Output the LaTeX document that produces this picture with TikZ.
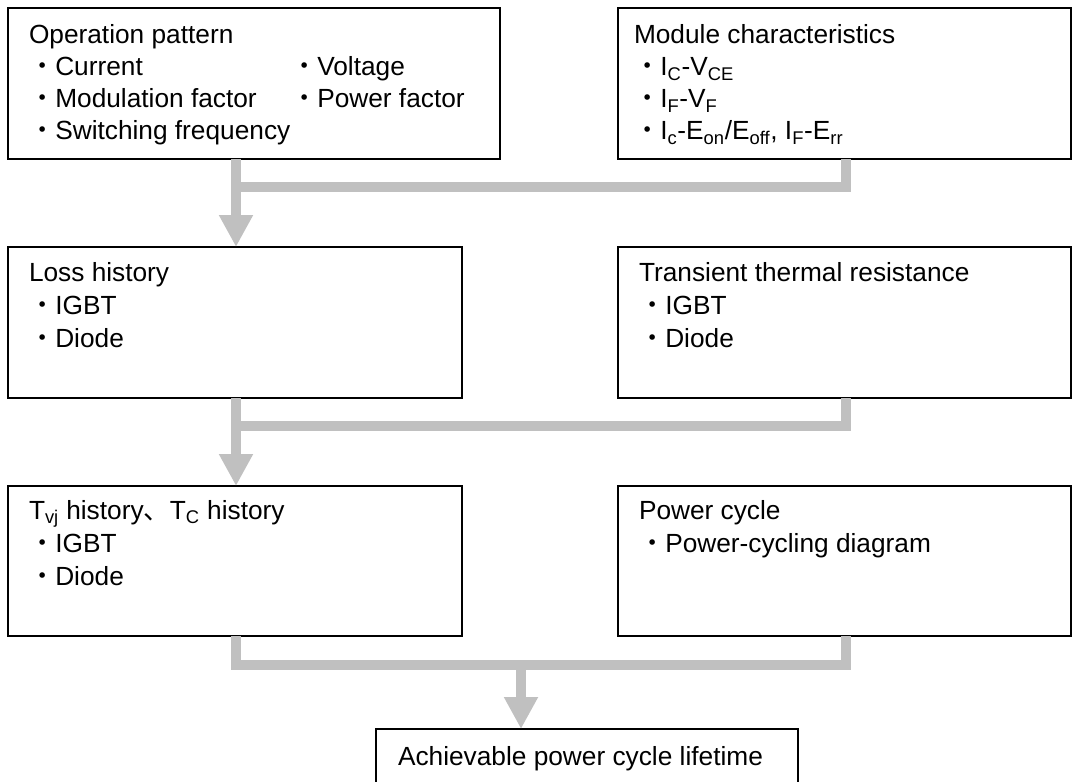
\documentclass[tikz,border=0pt]{standalone}
\usepackage{fontspec}
\setmainfont{Liberation Sans}
\newfontfamily\cjk{Noto Sans CJK JP}
\usetikzlibrary{arrows.meta,calc}
\definecolor{flowgrey}{RGB}{192,192,192}
% full-width bullet used in the item lists
\newcommand{\kd}{{\cjk ・}}
\begin{document}
\begin{tikzpicture}[x=0.75pt,y=-0.75pt,
  box/.style n args={2}{draw=black, line width=1.5pt, anchor=north west,
    inner sep=0pt, outer sep=0pt, minimum width=#1*0.75pt, minimum height=#2*0.75pt},
  txt/.style={anchor=base west, inner sep=0pt, outer sep=0pt,
    font=\fontsize{19.7}{24}\selectfont},
  flow/.style={draw=flowgrey, line width=7.5pt, line join=miter},
  flowarrow/.style={flow, -{Triangle[width=24pt,length=24pt]}},
]
\useasboundingbox (0,0) rectangle (1073,781);
\clip (0,0) rectangle (1073,781);

% boxes
\node[box={492}{151}] (op)    at (8,8) {};
\node[box={453}{151}] (mod)   at (618,8) {};
\node[box={454}{151}] (loss)  at (8,247) {};
\node[box={453}{151}] (trans) at (618,247) {};
\node[box={454}{150}] (tvj)   at (8,486) {};
\node[box={453}{150}] (pc)    at (618,486) {};
\node[box={422}{90}]  (life)  at (376,729) {};

% operation pattern
\node[txt] (op1) at ($(op.north west)+(21,36)$) {Operation pattern};
\node[txt] (op2) at ($(op.north west)+(21,68)$) {\kd Current};
\node[txt] (op3) at ($(op.north west)+(283,68)$) {\kd Voltage};
\node[txt] (op4) at ($(op.north west)+(21,100)$) {\kd Modulation factor};
\node[txt] (op5) at ($(op.north west)+(283,100)$) {\kd Power factor};
\node[txt] (op6) at ($(op.north west)+(21,132)$) {\kd Switching frequency};

% module characteristics
\node[txt] (mo1) at ($(mod.north west)+(16,36)$) {Module characteristics};
\node[txt] (mo2) at ($(mod.north west)+(16,68)$) {\kd I\textsubscript{C}-V\textsubscript{CE}};
\node[txt] (mo3) at ($(mod.north west)+(16,100)$) {\kd I\textsubscript{F}-V\textsubscript{F}};
\node[txt] (mo4) at ($(mod.north west)+(16,132)$) {\kd I\textsubscript{c}-E\textsubscript{on}/E\textsubscript{off}, I\textsubscript{F}-E\textsubscript{rr}};

% loss history
\node[txt] (lo1) at ($(loss.north west)+(21,34)$) {Loss history};
\node[txt] (lo2) at ($(loss.north west)+(21,67)$) {\kd IGBT};
\node[txt] (lo3) at ($(loss.north west)+(21,100)$) {\kd Diode};

% transient thermal resistance
\node[txt] (tr1) at ($(trans.north west)+(21,34)$) {Transient thermal resistance};
\node[txt] (tr2) at ($(trans.north west)+(21,67)$) {\kd IGBT};
\node[txt] (tr3) at ($(trans.north west)+(21,100)$) {\kd Diode};

% temperature history
\node[txt] (tv1) at ($(tvj.north west)+(21,33)$) {T\textsubscript{vj} history{\cjk 、}T\textsubscript{C} history};
\node[txt] (tv2) at ($(tvj.north west)+(21,66)$) {\kd IGBT};
\node[txt] (tv3) at ($(tvj.north west)+(21,99)$) {\kd Diode};

% power cycle
\node[txt] (pc1) at ($(pc.north west)+(21,33)$) {Power cycle};
\node[txt] (pc2) at ($(pc.north west)+(21,66)$) {\kd Power-cycling diagram};

% result
\node[txt] (li1) at ($(life.north west)+(22,36)$) {Achievable power cycle lifetime};

% connector columns
\coordinate (cL) at (236,0);
\coordinate (cR) at (846,0);
\coordinate (cM) at (521,0);

% first merge
\draw[flow] (mod.south -| cR) -- ++(0,28) coordinate (j1) -- (j1 -| cL);
\draw[flowarrow] (op.south -| cL) -- (loss.north -| cL);

% second merge
\draw[flow] (trans.south -| cR) -- ++(0,28) coordinate (j2) -- (j2 -| cL);
\draw[flowarrow] (loss.south -| cL) -- (tvj.north -| cL);

% final merge
\draw[flow] (tvj.south -| cL) -- ++(0,29) coordinate (j3) -- (j3 -| cR) -- (pc.south -| cR);
\draw[flowarrow] (j3 -| cM) -- (life.north -| cM);
\end{tikzpicture}
\end{document}
